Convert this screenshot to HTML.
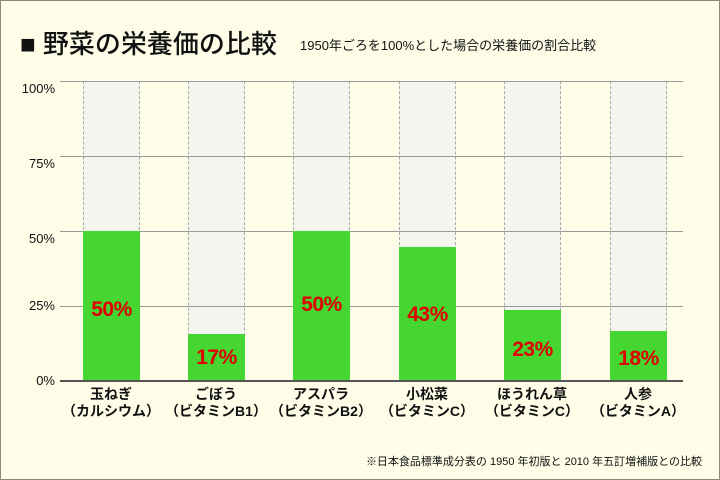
<!DOCTYPE html>
<html><head><meta charset="utf-8"><style>
*{margin:0;padding:0;box-sizing:border-box}
body{width:720px;height:480px;background:#fefde8;position:relative;overflow:hidden;font-family:"Liberation Sans","Noto Sans CJK JP",sans-serif;color:#111}
#frame{position:absolute;left:0;top:0;width:720px;height:480px;border:1px solid #8a8a80}
.a{position:absolute}
.grid{position:absolute;left:60px;width:623px;height:1px;background:#999}
.ylab{position:absolute;left:0;width:55px;text-align:right;font-size:13px;line-height:14px}
.col{position:absolute;top:81px;height:300px;width:57px;background:#f5f5ef;border-left:1px dashed #aaa;border-right:1px dashed #aaa}
.bar{position:absolute;width:57px;background:#46d631}
.val{position:absolute;width:57px;text-align:center;color:#e00000;font-weight:bold;font-size:21px;line-height:22px;letter-spacing:-0.5px}
.cat{position:absolute;top:386px;width:120px;text-align:center;font-weight:bold;font-size:14px;line-height:17px}
</style></head><body>
<div id="frame"></div>
<div class="a" style="left:20px;top:29px;font-size:26px;line-height:30px;font-weight:500">■ 野菜の栄養価の比較</div>
<div class="a" style="left:300px;top:38px;font-size:13px;line-height:16px">1950年ごろを100%とした場合の栄養価の割合比較</div>
<div class="col" style="left:83px"></div>
<div class="col" style="left:188px"></div>
<div class="col" style="left:293px"></div>
<div class="col" style="left:399px"></div>
<div class="col" style="left:504px"></div>
<div class="col" style="left:610px"></div>
<div class="grid" style="top:81px"></div>
<div class="grid" style="top:156px"></div>
<div class="grid" style="top:231px"></div>
<div class="grid" style="top:306px"></div>
<div class="ylab" style="top:82px">100%</div>
<div class="ylab" style="top:157px">75%</div>
<div class="ylab" style="top:232px">50%</div>
<div class="ylab" style="top:299px">25%</div>
<div class="ylab" style="top:374px">0%</div>
<div class="bar" style="left:83px;top:231px;height:150px"></div>
<div class="bar" style="left:188px;top:334px;height:47px"></div>
<div class="bar" style="left:293px;top:231px;height:150px"></div>
<div class="bar" style="left:399px;top:247px;height:134px"></div>
<div class="bar" style="left:504px;top:310px;height:71px"></div>
<div class="bar" style="left:610px;top:331px;height:50px"></div>
<div class="grid" style="top:380px;height:2px;background:#555"></div>
<div class="val" style="left:83px;top:299px">50%</div>
<div class="val" style="left:188px;top:347px">17%</div>
<div class="val" style="left:293px;top:294px">50%</div>
<div class="val" style="left:399px;top:304px">43%</div>
<div class="val" style="left:504px;top:339px">23%</div>
<div class="val" style="left:610px;top:348px">18%</div>
<div class="cat" style="left:51px">玉ねぎ<br>（カルシウム）</div>
<div class="cat" style="left:156px">ごぼう<br>（ビタミンB1）</div>
<div class="cat" style="left:261px">アスパラ<br>（ビタミンB2）</div>
<div class="cat" style="left:367px">小松菜<br>（ビタミンC）</div>
<div class="cat" style="left:472px">ほうれん草<br>（ビタミンC）</div>
<div class="cat" style="left:578px">人参<br>（ビタミンA）</div>
<div class="a" style="right:18px;top:455px;font-size:11px;line-height:14px">※日本食品標準成分表の 1950 年初版と 2010 年五訂増補版との比較</div>
</body></html>
